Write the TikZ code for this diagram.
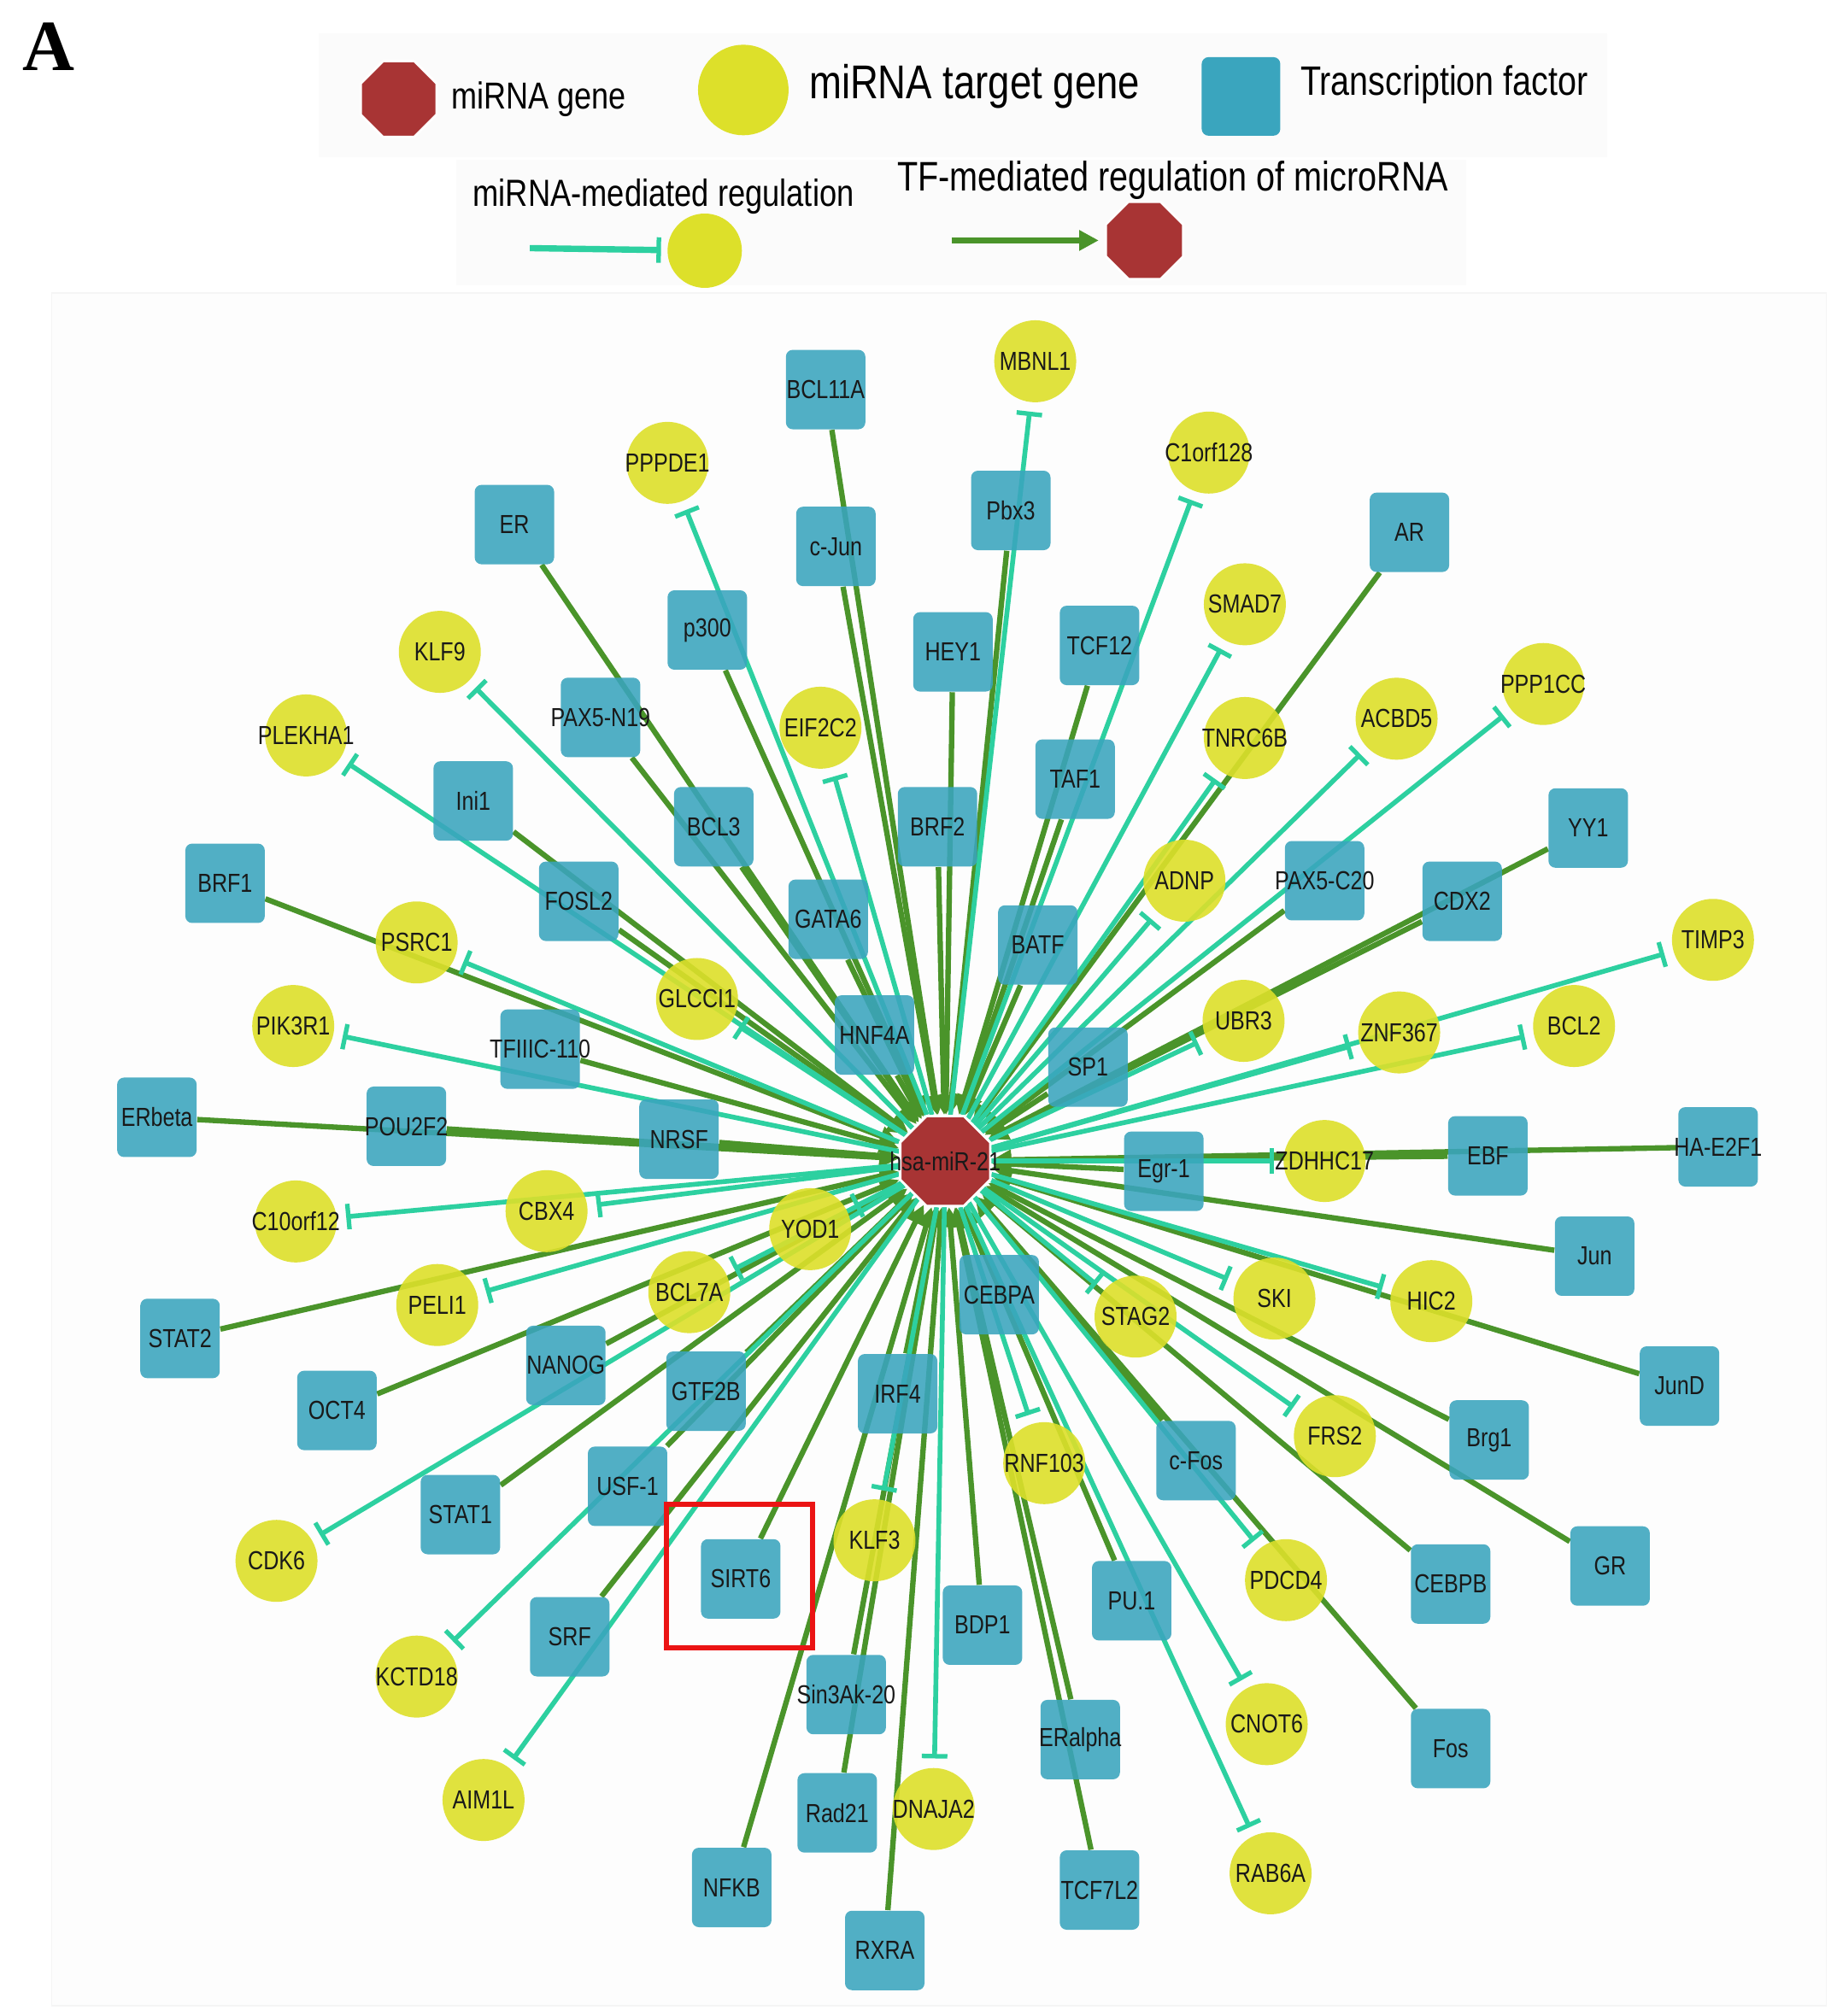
\documentclass[tikz,border=0pt]{standalone}
\usepackage{fontspec}
\setmainfont{Liberation Sans}[FakeStretch=0.82]
\newfontfamily\serifA{Liberation Serif}
\usetikzlibrary{shapes.geometric,arrows.meta}
\pgfdeclarelayer{bg}
\pgfsetlayers{bg,main}
\definecolor{tfc}{RGB}{58,165,190}
\definecolor{tgc}{RGB}{221,224,42}
\definecolor{mirc}{RGB}{168,52,52}
\definecolor{inhc}{RGB}{45,208,160}
\definecolor{actc}{RGB}{74,148,42}
\tikzset{
 tf/.style={rectangle,rounded corners=0.8mm,fill=tfc,fill opacity=0.88,minimum size=9.3mm,inner sep=0pt},
 tg/.style={circle,fill=tgc,fill opacity=0.9,minimum size=9.6mm,inner sep=0pt},
 mirna/.style={regular polygon,regular polygon sides=8,fill=mirc,draw=white,line width=0.8pt,minimum size=11.4mm,inner sep=0pt},
 lbl/.style={font=\fontsize{8.7}{9}\selectfont,text=black!90,inner sep=0pt,text opacity=1},
 act/.style={actc,line width=1.8pt,-{Triangle[length=6.5pt,width=6.5pt]}},
 inh/.style={inhc,line width=1.6pt,-{Bar[width=8.5pt,line width=1.5pt]},shorten >=3pt},
}
\begin{document}
\begin{tikzpicture}[x=0.15056mm,y=-0.15056mm]
\useasboundingbox (0,0) rectangle (1428,1568);
% panel letter
\node[font=\serifA\bfseries\fontsize{24}{24}\selectfont] (A) at (38,36) {A};
% legend nodes
\node[mirna,minimum size=9.6mm] (lgmir) at (310,77) {};
\node[anchor=west,font=\fontsize{12.5}{14}\selectfont] (lgmirt) at (343,77) {miRNA gene};
\node[tg,minimum size=10.6mm,fill opacity=1] (lgtg) at (578,70) {};
\node[anchor=west,font=\fontsize{15.8}{18}\selectfont] (lgtgt) at (621,67) {miRNA target gene};
\node[tf,minimum size=9.2mm,fill opacity=1] (lgtf) at (965,75) {};
\node[anchor=west,font=\fontsize{13.7}{16}\selectfont] (lgtft) at (1003,66) {Transcription factor};
\node[font=\fontsize{12.6}{14}\selectfont] (lginht) at (516,153) {miRNA-mediated regulation};
\coordinate (lginhs) at (412,193);
\node[tg,minimum size=8.7mm,fill opacity=1] (lginh) at (548,195) {};
\draw[inh,line width=2.1pt,shorten >=2pt] (lginhs) -- (lginh);
\node[font=\fontsize{13.75}{16}\selectfont] (lgactt) at (912,140) {TF-mediated regulation of microRNA};
\coordinate (lgacts) at (740,187);
\node[mirna,minimum size=9.8mm] (lgact) at (890,187) {};
\draw[act,line width=2.1pt,shorten >=2pt] (lgacts) -- (lgact);
% central miRNA
\node[mirna,label={[lbl]center:hsa-miR-21}] (mir) at (735,903) {};
% transcription factors
\foreach \x/\y/\nm/\lb in {642/303/BCL11A/BCL11A, 650/425/cJun/c-Jun, 786/397/Pbx3/Pbx3, 400/408/ER/ER, 1096/414/AR/AR,
 550/490/p300/p300, 741/507/HEY1/HEY1, 855/502/TCF12/TCF12, 467/558/PAX5N19/PAX5-N19, 555/643/BCL3/BCL3,
 729/643/BRF2/BRF2, 836/606/TAF1/TAF1, 368/623/Ini1/Ini1, 175/687/BRF1/BRF1, 450/701/FOSL2/FOSL2,
 644/715/GATA6/GATA6, 807/735/BATF/BATF, 1030/685/PAX5C20/PAX5-C20, 1137/701/CDX2/CDX2, 1235/644/YY1/YY1,
 420/816/TFIIIC110/TFIIIC-110, 680/805/HNF4A/HNF4A, 846/830/SP1/SP1, 122/869/ERbeta/ERbeta, 316/876/POU2F2/POU2F2,
 528/886/NRSF/NRSF, 905/911/Egr1/Egr-1, 1157/899/EBF/EBF, 1336/892/HAE2F1/HA-E2F1, 1240/977/Jun/Jun,
 140/1041/STAT2/STAT2, 777/1007/CEBPA/CEBPA, 440/1062/NANOG/NANOG, 549/1082/GTF2B/GTF2B, 262/1097/OCT4/OCT4,
 698/1084/IRF4/IRF4, 1306/1078/JunD/JunD, 1158/1120/Brg1/Brg1, 930/1136/cFos/c-Fos, 488/1156/USF1/USF-1,
 358/1178/STAT1/STAT1, 576/1228/SIRT6/SIRT6, 1252/1218/GR/GR, 1128/1232/CEBPB/CEBPB, 764/1264/BDP1/BDP1,
 880/1245/PU1/PU.1, 443/1273/SRF/SRF, 658/1318/Sin3Ak20/Sin3Ak-20, 840/1353/ERalpha/ERalpha, 1128/1360/Fos/Fos,
 651/1410/Rad21/Rad21, 569/1468/NFKB/NFKB, 855/1470/TCF7L2/TCF7L2, 688/1517/RXRA/RXRA}
 {\node[tf,label={[lbl]center:\lb}] (\nm) at (\x,\y) {};}
% target genes
\foreach \x/\y/\nm/\lb in {805/281/MBNL1/MBNL1, 519/360/PPPDE1/PPPDE1, 940/352/C1orf128/C1orf128, 968/470/SMAD7/SMAD7,
 342/507/KLF9/KLF9, 1200/532/PPP1CC/PPP1CC, 638/566/EIF2C2/EIF2C2, 1086/559/ACBD5/ACBD5, 968/574/TNRC6B/TNRC6B,
 238/572/PLEKHA1/PLEKHA1, 921/685/ADNP/ADNP, 1332/731/TIMP3/TIMP3, 324/733/PSRC1/PSRC1, 542/777/GLCCI1/GLCCI1,
 228/798/PIK3R1/PIK3R1, 967/794/UBR3/UBR3, 1088/803/ZNF367/ZNF367, 1224/798/BCL2/BCL2, 1030/903/ZDHHC17/ZDHHC17,
 230/950/C10orf12/C10orf12, 425/942/CBX4/CBX4, 630/956/YOD1/YOD1, 991/1010/SKI/SKI, 1113/1012/HIC2/HIC2,
 340/1015/PELI1/PELI1, 536/1005/BCL7A/BCL7A, 883/1024/STAG2/STAG2, 1038/1117/FRS2/FRS2, 812/1138/RNF103/RNF103,
 215/1214/CDK6/CDK6, 680/1198/KLF3/KLF3, 1000/1229/PDCD4/PDCD4, 324/1304/KCTD18/KCTD18, 985/1341/CNOT6/CNOT6,
 376/1400/AIM1L/AIM1L, 726/1407/DNAJA2/DNAJA2, 988/1457/RAB6A/RAB6A}
 {\node[tg,label={[lbl]center:\lb}] (\nm) at (\x,\y) {};}
% highlight box
\node[draw={rgb,255:red,235;green,20;blue,20},line width=1.6pt,minimum width=17.1mm,minimum height=16.8mm,inner sep=0pt] (sirtbox) at (575,1226) {};
% backgrounds and edges
\begin{pgfonlayer}{bg}
\fill[white] (0,0) rectangle (1428,1568);
\fill[gray!3] (248,26) rectangle (1250,122);
\fill[gray!3] (355,124) rectangle (1140,222);
\fill[gray!1.5] (40,228) rectangle (1420,1560);
\draw[gray!8] (40,228) rectangle (1420,1560);
\foreach \nm in {BCL11A,cJun,Pbx3,ER,AR,p300,HEY1,TCF12,PAX5N19,BCL3,BRF2,TAF1,Ini1,BRF1,FOSL2,GATA6,BATF,PAX5C20,CDX2,YY1,
 TFIIIC110,HNF4A,SP1,ERbeta,POU2F2,NRSF,Egr1,EBF,HAE2F1,Jun,STAT2,CEBPA,NANOG,GTF2B,OCT4,IRF4,JunD,Brg1,cFos,USF1,
 STAT1,SIRT6,GR,CEBPB,BDP1,PU1,SRF,Sin3Ak20,ERalpha,Fos,Rad21,NFKB,TCF7L2,RXRA}
 {\draw[act] (\nm) -- (mir);}
\foreach \nm in {MBNL1,PPPDE1,C1orf128,SMAD7,KLF9,PPP1CC,EIF2C2,ACBD5,TNRC6B,PLEKHA1,ADNP,TIMP3,PSRC1,GLCCI1,PIK3R1,UBR3,
 ZNF367,BCL2,ZDHHC17,C10orf12,CBX4,YOD1,SKI,HIC2,PELI1,BCL7A,STAG2,FRS2,RNF103,CDK6,KLF3,PDCD4,KCTD18,CNOT6,AIM1L,DNAJA2,RAB6A}
 {\draw[inh] (mir) -- (\nm);}
\end{pgfonlayer}
\end{tikzpicture}
\end{document}
